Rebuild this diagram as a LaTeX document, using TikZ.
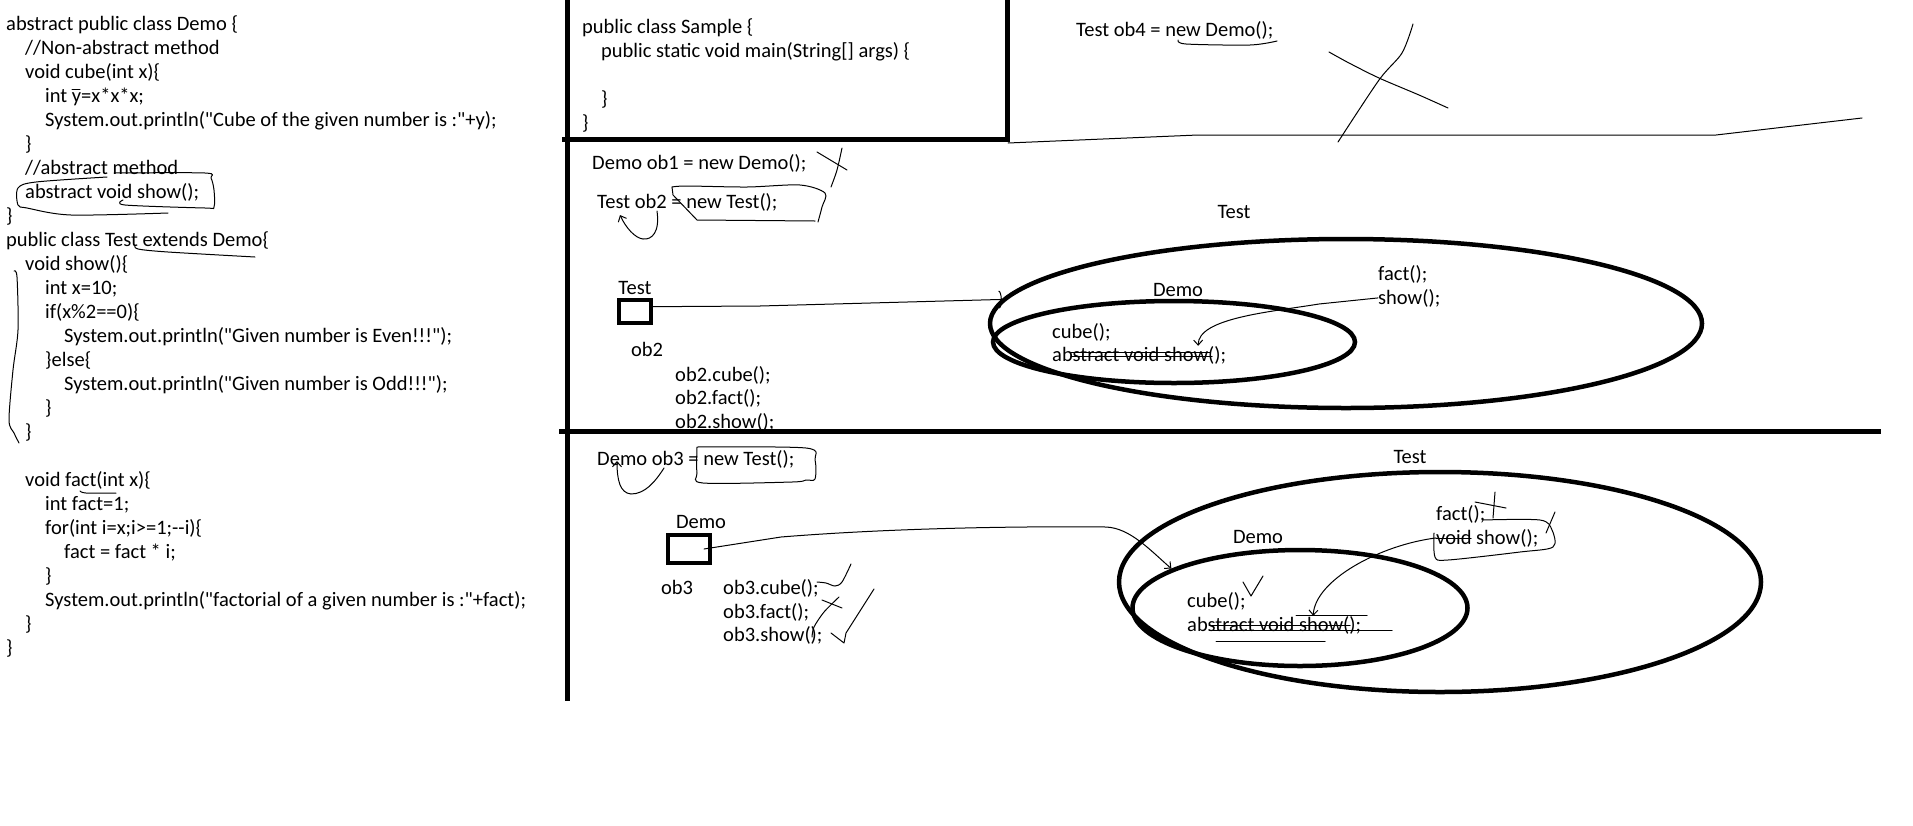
\documentclass[tikz,border=0pt]{standalone}
\usepackage{fontspec}
\setmainfont{Carlito}[Ligatures=TeXOff]
\usetikzlibrary{shapes.geometric,arrows.meta}

\tikzset{
  codeline/.style={anchor=base west, inner sep=0pt, font=\fontsize{20.5}{24}\selectfont},
  classname/.style={anchor=base, inner sep=0pt, font=\fontsize{20.5}{24}\selectfont},
  wall/.style={line width=5pt},
  pen/.style={line width=1pt, line cap=round, line join=round},
  tipped/.style={pen, -{Straight Barb[length=5pt,width=9pt]}},
  objbox/.style={draw, line width=4pt, inner sep=0pt},
  blob/.style={draw, ellipse, line width=4.5pt, inner sep=0pt},
}

\begin{document}
\begin{tikzpicture}[x=1pt, y=-1pt]
    \useasboundingbox (0,0) rectangle (1913,825);

    % Class Demo
    \node[codeline] (d0) at (6,30) {abstract public class Demo \{};
    \node[codeline] (d1) at (25,54) {//Non-abstract method};
    \node[codeline] (d2) at (25,78) {void cube(int x)\{};
    \node[codeline] (d3) at (45,102) {int y=x*x*x;};
    \node[codeline] (d4) at (45,126) {System.out.println("Cube of the given number is :"+y);};
    \node[codeline] (d5) at (25,150) {\}};
    \node[codeline] (d6) at (25,174) {//abstract method};
    \node[codeline] (d7) at (25,198) {abstract void show();};
    \node[codeline] (d8) at (6,222) {\}};

    % Class Test
    \node[codeline] (t0) at (6,246) {public class Test extends Demo\{};
    \node[codeline] (t1) at (25,270) {void show()\{};
    \node[codeline] (t2) at (45,294) {int x=10;};
    \node[codeline] (t3) at (45,318) {if(x\%2==0)\{};
    \node[codeline] (t4) at (64,342) {System.out.println("Given number is Even!!!");};
    \node[codeline] (t5) at (45,366) {\}else\{};
    \node[codeline] (t6) at (64,390) {System.out.println("Given number is Odd!!!");};
    \node[codeline] (t7) at (45,414) {\}};
    \node[codeline] (t8) at (25,438) {\}};
    \node[codeline] (t9) at (25,486) {void fact(int x)\{};
    \node[codeline] (t10) at (45,510) {int fact=1;};
    \node[codeline] (t11) at (45,534) {for(int i=x;i>=1;--i)\{};
    \node[codeline] (t12) at (64,558) {fact = fact * i;};
    \node[codeline] (t13) at (45,582) {\}};
    \node[codeline] (t14) at (45,606) {System.out.println("factorial of a given number is :"+fact);};
    \node[codeline] (t15) at (25,630) {\}};
    \node[codeline] (t16) at (6,654) {\}};

    % Pen marks on the listing
    \draw[pen] (72,89) -- (80,89);
    \draw[pen] plot[smooth] coordinates {(114,173) (205,173) (211,178) (214,190) (214,207) (205,208) (125,205) (123,200)};
    \draw[pen] plot[smooth] coordinates {(107,177) (36,182) (18,188) (18,205) (27,208) (71,215) (168,213)};
    \draw[pen] plot[smooth] coordinates {(135,245) (138,249) (168,252) (255,257)};
    \draw[pen] plot[smooth] coordinates {(14,271) (17,277) (18,330) (13,370) (9,420) (14,433) (19,443)};
    \draw[pen] plot[smooth] coordinates {(80,491) (86,493) (116,493)};

    % Dividing lines
    \draw[wall] (567,0) -- (567,701);
    \draw[wall] (1007,0) -- (1007,141);
    \draw[wall] (562,139) -- (1009.5,139);
    \draw[wall] (559,431) -- (1881,431);
    \draw[pen] (1008,143) -- (1198,135) -- (1716,135) -- (1862,118);

    % Class Sample
    \node[codeline] (s0) at (582,33) {public class Sample \{};
    \node[codeline] (s1) at (601,57) {public static void main(String[] args) \{};
    \node[codeline] (s2) at (601,105) {\}};
    \node[codeline] (s3) at (582,129) {\}};

    % ob4, crossed out
    \node[codeline] (obFour) at (1076,36) {Test ob4 = new Demo();};
    \draw[pen] plot[smooth] coordinates {(1178,40) (1186,44) (1250,45) (1277,41)};
    \draw[pen] plot[smooth] coordinates {(1413,24) (1402,53) (1379,80) (1338,142)};
    \draw[pen] plot[smooth] coordinates {(1329,52) (1349,63) (1379,78) (1419,95) (1448,108)};

    % ob1 and ob2
    \node[codeline] (declOne) at (592,169) {Demo ob1 = new Demo();};
    \draw[pen] (817,152) -- (847,170);
    \draw[pen] plot[smooth] coordinates {(842,148) (837,170) (831,187)};
    \node[codeline] (declTwo) at (597,208) {Test ob2 = new Test();};
    \draw[pen] plot[smooth] coordinates {(672,187) (687,186) (747,187) (800,185) (825,193) (822,207) (818,222)};
    \draw[pen] (815,221) -- (697,220) -- (673,195) -- (672,187);
    \draw[tipped] ([xshift=60pt]declTwo.south west) .. controls (660,232) and (652,240) .. (643,239)
        .. controls (635,238) and (626,228) .. ([xshift=23pt,yshift=-4pt]declTwo.south west);

    \node[classname] (typeTwo) at (635,294) {Test};
    \node[objbox, minimum width=32pt, minimum height=23pt] (objTwo) at (635,311.5) {};
    \node[classname] (nameTwo) at (647,356) {ob2};
    \node[codeline] (callTwoA) at (675,381) {ob2.cube();};
    \node[codeline] (callTwoB) at (675,404) {ob2.fact();};
    \node[codeline] (callTwoC) at (675,428) {ob2.show();};

    % Test object holding Demo part
    \node[blob, minimum width=712pt, minimum height=169pt] (outerTwo) at (1346,323.5) {};
    \node[blob, minimum width=362pt, minimum height=82pt] (innerTwo) at (1174,342) {};
    \node[classname] (testTwo) at (1234,218) {Test};
    \node[classname] (demoTwo) at (1178,296) {Demo};
    \node[codeline] (factTwo) at (1378,280) {fact();};
    \node[codeline] (showTwo) at (1378,304) {show();};
    \node[codeline] (cubeTwo) at (1052,338) {cube();};
    \node[codeline] (absTwo) at (1052,361) {abstract void show();};
    \draw[pen] (1071,352) -- (1210,352);
    \draw[pen] (1071,356) -- (1212,356);
    \draw[pen, -{Arc Barb[length=3pt,width=18pt]}] (objTwo.15) -- (760,306) -- (outerTwo.176);
    \draw[tipped] (showTwo.west) -- (1319,304) .. controls (1270,312) and (1198,318) .. ([xshift=59pt]absTwo.north);

    % ob3
    \node[codeline] (declThree) at (597,465) {Demo ob3 = new Test();};
    \draw[pen] plot[smooth] coordinates {(697,447) (806,448) (815,460) (815,479) (806,480) (792,482) (703,483) (697,473) (697,447)};
    \draw[tipped] ([xshift=67pt]declThree.south west) .. controls (655,482) and (645,494) .. (631,494)
        .. controls (620,493) and (617,480) .. ([xshift=20pt,yshift=7pt]declThree.south west);

    \node[classname] (typeThree) at (701,528) {Demo};
    \node[objbox, minimum width=42pt, minimum height=28pt] (objThree) at (689,549) {};
    \node[classname] (nameThree) at (677,594) {ob3};
    \node[codeline] (callThreeA) at (723,594) {ob3.cube();};
    \node[codeline] (callThreeB) at (723,618) {ob3.fact();};
    \node[codeline] (callThreeC) at (723,641) {ob3.show();};
    \draw[pen] plot[smooth] coordinates {(817,582) (826,583) (835,586) (842,582) (851,564)};
    \draw[pen] (822,600) -- (842,608);
    \draw[pen] plot[smooth] coordinates {(839,597) (824,612) (814,627) (812,637)};
    \draw[pen] (831,633) -- (844,643) -- (846,633) -- (874,589);

    % Demo reference to Test object
    \node[blob, minimum width=642pt, minimum height=220pt] (outerThree) at (1440,582) {};
    \node[blob, minimum width=335pt, minimum height=116pt] (innerThree) at (1300,608) {};
    \node[classname] (testThree) at (1410,463) {Test};
    \node[classname] (demoThree) at (1258,543) {Demo};
    \node[codeline] (factThree) at (1436,520) {fact();};
    \node[codeline] (showThree) at (1436,544) {void show();};
    \node[codeline] (cubeThree) at (1187,607) {cube();};
    \node[codeline] (absThree) at (1187,631) {abstract void show();};
    \draw[pen] (1436,538) -- (1471,538);
    \draw[pen] (1495,492) -- (1493,518);
    \draw[pen] (1475,502) -- (1506,508);
    \draw[pen] plot[smooth] coordinates {(1482,520) (1540,520) (1552,530) (1553,547) (1520,552) (1448,560) (1435,557) (1434,533)};
    \draw[pen] (1546,533) -- (1555,512);
    \draw[pen] (1243,582) -- (1251,596) -- (1263,576);
    \draw[pen] (1296,615) -- (1367,615);
    \draw[pen] (1209,625) -- (1350,625);
    \draw[pen] (1209,630) -- (1392,630);
    \draw[pen] (1216,641) -- (1325,641);
    \draw[tipped] ([xshift=-8pt]objThree.east) -- (781,537) .. controls (880,529) and (1000,526) .. (1106,527)
        .. controls (1130,528) and (1150,550) .. (innerThree.163);
    \draw[tipped] (showThree.west) .. controls (1380,545) and (1315,580) .. ([xshift=39pt]absThree.north);
\end{tikzpicture}
\end{document}
